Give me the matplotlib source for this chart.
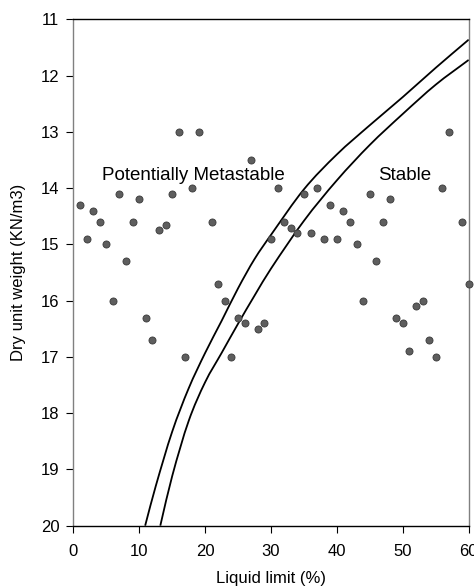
import matplotlib.pyplot as plt
from matplotlib.path import Path
from matplotlib.patches import PathPatch

plt.rcParams['font.family'] = ['Liberation Sans', 'DejaVu Sans']

# soil samples: liquid limit (%) and dry unit weight (kN/m3)
liquid_limit = [1, 2, 3, 4, 5, 6, 7, 8, 9, 10, 11, 12, 13, 14, 15, 16, 17, 18, 19,
                21, 22, 23, 24, 25, 26, 27, 28, 29, 30, 31, 32, 33, 34, 35, 36, 37,
                38, 39, 40, 41, 42, 43, 44, 45, 46, 47, 48, 49, 50, 51, 52, 53, 54,
                55, 56, 57, 59, 60]
dry_unit_weight = [14.3, 14.9, 14.4, 14.6, 15.0, 16.0, 14.1, 15.3, 14.6, 14.2, 16.3,
                   16.7, 14.75, 14.65, 14.1, 13.0, 17.0, 14.0, 13.0,
                   14.6, 15.7, 16.0, 17.0, 16.3, 16.4, 13.5, 16.5, 16.4, 14.9, 14.0,
                   14.6, 14.7, 14.8, 14.1, 14.8, 14.0, 14.9, 14.3, 14.9, 14.4, 14.6,
                   15.0, 16.0, 14.1, 15.3, 14.6, 14.2, 16.3, 16.4, 16.9, 16.1, 16.0,
                   16.7, 17.0, 14.0, 13.0, 14.6, 15.7]

# boundary curves between metastable and stable zones
upper_ll = [10.9, 12.5, 15, 17.5, 20, 22.5, 25, 27.5, 30, 35, 40, 45, 50, 55, 60]
upper_gd = [20.0, 19.30, 18.33, 17.56, 16.93, 16.36, 15.78, 15.26, 14.83, 14.02,
            13.40, 12.88, 12.38, 11.86, 11.36]
lower_ll = [13.2, 15, 17.5, 20, 22.5, 25, 27.5, 30, 35, 40, 45, 50, 55, 60]
lower_gd = [20.0, 19.12, 18.14, 17.45, 16.93, 16.41, 15.91, 15.43, 14.58, 13.86,
            13.23, 12.68, 12.16, 11.72]


def smooth_path(xs, ys):
    # cubic hermite segments through every point, tangents from neighbouring points
    n = len(xs)
    slopes = []
    for i in range(n):
        a = max(i - 1, 0)
        b = min(i + 1, n - 1)
        slopes.append((ys[b] - ys[a]) / (xs[b] - xs[a]))
    verts = [(xs[0], ys[0])]
    codes = [Path.MOVETO]
    for i in range(n - 1):
        h = (xs[i + 1] - xs[i]) / 3
        verts += [(xs[i] + h, ys[i] + slopes[i] * h),
                  (xs[i + 1] - h, ys[i + 1] - slopes[i + 1] * h),
                  (xs[i + 1], ys[i + 1])]
        codes += [Path.CURVE4] * 3
    return Path(verts, codes)


def plot_collapse_chart():
    fig = plt.figure(figsize=(4.74, 5.88), dpi=100)
    ax = fig.add_axes([0.1547, 0.106, 0.8341, 0.861])

    for xs, ys in [(upper_ll, upper_gd), (lower_ll, lower_gd)]:
        ax.add_patch(PathPatch(smooth_path(xs, ys), fill=False,
                               edgecolor='black', lw=1.3))
    ax.scatter(liquid_limit, dry_unit_weight, s=26, color='#5e5e5e',
               edgecolors='#3a3a3a', linewidths=0.6, zorder=3, clip_on=False)

    ax.text(4.3, 13.78, 'Potentially Metastable', fontsize=13.5, va='center')
    ax.text(46.3, 13.78, 'Stable', fontsize=13.5, va='center')

    ax.set_xlim(0, 60)
    ax.set_ylim(20, 11)
    ax.set_xticks(range(0, 61, 10))
    ax.set_yticks(range(11, 21))
    ax.tick_params(axis='x', direction='out', length=5, pad=8, labelsize=12)
    ax.tick_params(axis='y', direction='out', length=5, pad=5, labelsize=12)

    for side in ['left', 'right']:
        ax.spines[side].set_color('#808080')
    for side in ['top', 'bottom']:
        ax.spines[side].set_color('black')
    for sp in ax.spines.values():
        sp.set_linewidth(1.0)

    ax.set_xlabel('Liquid limit (%)', fontsize=12, labelpad=9)
    ax.set_ylabel('Dry unit weight (KN/m3)', fontsize=12, labelpad=11)

    fig.savefig('out.png', dpi=100)


if __name__ == "__main__":
    plot_collapse_chart()
